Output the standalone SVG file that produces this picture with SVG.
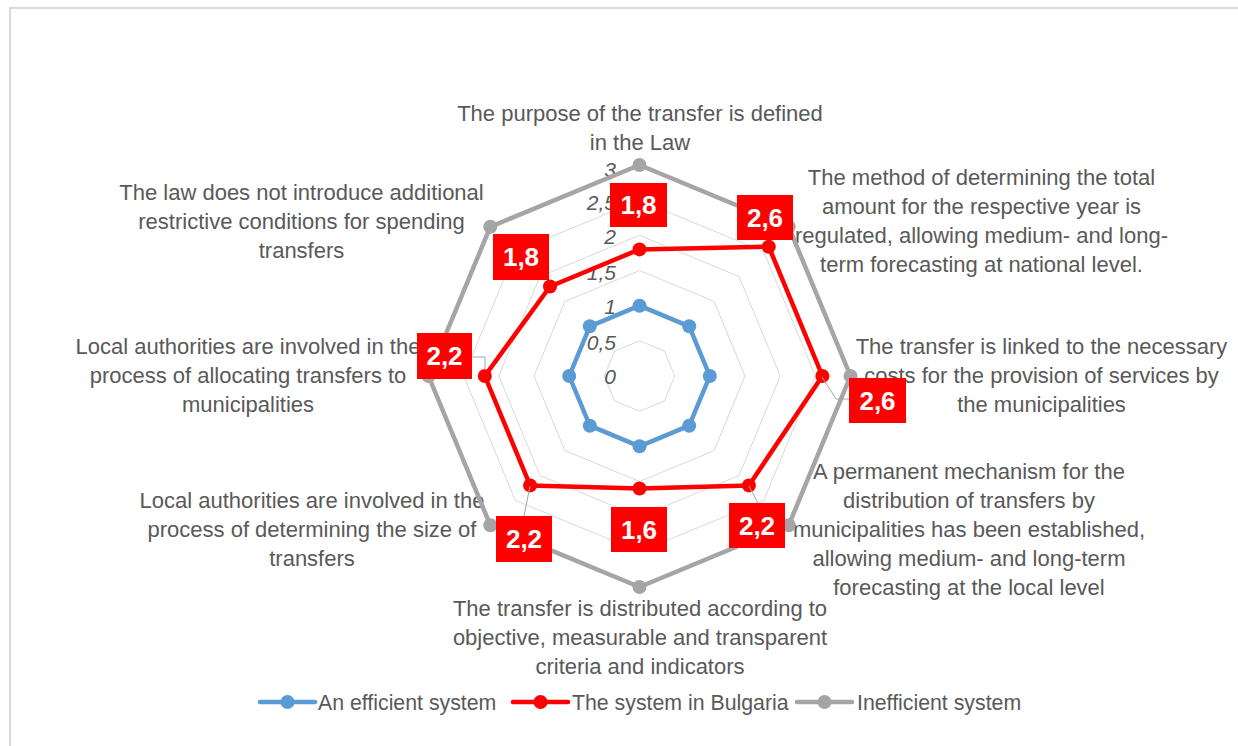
<svg xmlns="http://www.w3.org/2000/svg" width="1238" height="746" viewBox="0 0 1238 746">
<style>
.cat{font-family:"Liberation Sans",Arial,sans-serif;font-size:22px;fill:#595959;text-anchor:middle}
.ax{font-family:"Liberation Sans",Arial,sans-serif;font-size:21px;font-style:italic;fill:#595959;text-anchor:end}
.leg{font-family:"Liberation Sans",Arial,sans-serif;font-size:21.3px;fill:#595959}
.grid{fill:none;stroke:#d9d9d9;stroke-width:1}
.lbl rect{fill:#ff0000}
.lbl text{font-family:"Liberation Sans",Arial,sans-serif;font-size:26px;font-weight:bold;fill:#ffffff;text-anchor:middle}
.leader{fill:none;stroke:#a6a6a6;stroke-width:1}
</style>
<rect x="0" y="0" width="1238" height="746" fill="#ffffff"/>
<path d="M10,746 L10,8 L1238,8" fill="none" stroke="#d9d9d9" stroke-width="2"/>

<g id="grid" transform="translate(639.5,376)">
<polygon class="grid" points="0,-35.2 24.9,-24.9 35.2,0 24.9,24.9 0,35.2 -24.9,24.9 -35.2,0 -24.9,-24.9"/>
<polygon class="grid" points="0,-70.3 49.7,-49.7 70.3,0 49.7,49.7 0,70.3 -49.7,49.7 -70.3,0 -49.7,-49.7"/>
<polygon class="grid" points="0,-105.5 74.6,-74.6 105.5,0 74.6,74.6 0,105.5 -74.6,74.6 -105.5,0 -74.6,-74.6"/>
<polygon class="grid" points="0,-140.7 99.5,-99.5 140.7,0 99.5,99.5 0,140.7 -99.5,99.5 -140.7,0 -99.5,-99.5"/>
<polygon class="grid" points="0,-175.8 124.3,-124.3 175.8,0 124.3,124.3 0,175.8 -124.3,124.3 -175.8,0 -124.3,-124.3"/>
<polygon class="grid" points="0,-211 149.2,-149.2 211,0 149.2,149.2 0,211 -149.2,149.2 -211,0 -149.2,-149.2"/>
</g>

<g id="axis-labels">
<text class="ax" x="616" y="177">3</text>
<text class="ax" x="616" y="210">2,5</text>
<text class="ax" x="616" y="244">2</text>
<text class="ax" x="616" y="280">1,5</text>
<text class="ax" x="616" y="314">1</text>
<text class="ax" x="616" y="350">0,5</text>
<text class="ax" x="616" y="384">0</text>
</g>

<g id="cat-top">
<text class="cat" x="640" y="120.5">The purpose of the transfer is defined</text>
<text class="cat" x="640" y="149.5">in the Law</text>
</g>
<g id="cat-top-right">
<text class="cat" x="981.5" y="185">The method of determining the total</text>
<text class="cat" x="981.5" y="214">amount for the respective year is</text>
<text class="cat" x="981.5" y="243">regulated, allowing medium- and long-</text>
<text class="cat" x="981.5" y="272">term forecasting at national level.</text>
</g>
<g id="cat-right">
<text class="cat" x="1041.5" y="353.5">The transfer is linked to the necessary</text>
<text class="cat" x="1041.5" y="382.5">costs for the provision of services by</text>
<text class="cat" x="1041.5" y="411.5">the municipalities</text>
</g>
<g id="cat-bottom-right">
<text class="cat" x="969" y="478.5">A permanent mechanism for the</text>
<text class="cat" x="969" y="507.5">distribution of transfers by</text>
<text class="cat" x="969" y="536.5">municipalities has been established,</text>
<text class="cat" x="969" y="565.5">allowing medium- and long-term</text>
<text class="cat" x="969" y="594.5">forecasting at the local level</text>
</g>
<g id="cat-bottom">
<text class="cat" x="640" y="616">The transfer is distributed according to</text>
<text class="cat" x="640" y="645">objective, measurable and transparent</text>
<text class="cat" x="640" y="674">criteria and indicators</text>
</g>
<g id="cat-bottom-left">
<text class="cat" x="312" y="507.5">Local authorities are involved in the</text>
<text class="cat" x="312" y="536.5">process of determining the size of</text>
<text class="cat" x="312" y="565.5">transfers</text>
</g>
<g id="cat-left">
<text class="cat" x="248" y="353.5">Local authorities are involved in the</text>
<text class="cat" x="248" y="382.5">process of allocating transfers to</text>
<text class="cat" x="248" y="411.5">municipalities</text>
</g>
<g id="cat-top-left">
<text class="cat" x="301.5" y="199.5">The law does not introduce additional</text>
<text class="cat" x="301.5" y="228.5">restrictive conditions for spending</text>
<text class="cat" x="301.5" y="257.5">transfers</text>
</g>

<g id="connectors">
<g id="series-efficient" transform="translate(639.5,376)" fill="#5b9bd5">
<polygon points="0,-70.3 49.7,-49.7 70.3,0 49.7,49.7 0,70.3 -49.7,49.7 -70.3,0 -49.7,-49.7" fill="none" stroke="#5b9bd5" stroke-width="4.5" stroke-linejoin="round"/>
<circle cx="0" cy="-70.3" r="7"/><circle cx="49.7" cy="-49.7" r="7"/><circle cx="70.3" cy="0" r="7"/><circle cx="49.7" cy="49.7" r="7"/>
<circle cx="0" cy="70.3" r="7"/><circle cx="-49.7" cy="49.7" r="7"/><circle cx="-70.3" cy="0" r="7"/><circle cx="-49.7" cy="-49.7" r="7"/>
</g>
<g id="series-bulgaria" transform="translate(639.5,376)" fill="#ff0000">
<polygon points="0,-126.6 129.3,-129.3 182.9,0 109.4,109.4 0,112.5 -109.4,109.4 -154.7,0 -89.5,-89.5" fill="none" stroke="#ff0000" stroke-width="4.5" stroke-linejoin="round"/>
<circle cx="0" cy="-126.6" r="7"/><circle cx="129.3" cy="-129.3" r="7"/><circle cx="182.9" cy="0" r="7"/><circle cx="109.4" cy="109.4" r="7"/>
<circle cx="0" cy="112.5" r="7"/><circle cx="-109.4" cy="109.4" r="7"/><circle cx="-154.7" cy="0" r="7"/><circle cx="-89.5" cy="-89.5" r="7"/>
</g>
<g id="series-inefficient" transform="translate(639.5,376)" fill="#a5a5a5">
<polygon points="0,-211 149.2,-149.2 211,0 149.2,149.2 0,211 -149.2,149.2 -211,0 -149.2,-149.2" fill="none" stroke="#a5a5a5" stroke-width="4.5" stroke-linejoin="round"/>
<circle cx="0" cy="-211" r="7"/><circle cx="149.2" cy="-149.2" r="7"/><circle cx="211" cy="0" r="7"/><circle cx="149.2" cy="149.2" r="7"/>
<circle cx="0" cy="211" r="7"/><circle cx="-149.2" cy="149.2" r="7"/><circle cx="-211" cy="0" r="7"/><circle cx="-149.2" cy="-149.2" r="7"/>
</g>
<path class="leader" d="M822,377 L836,399 L849,399"/>
<path class="leader" d="M472,357 L485,357 L485,370"/>
<path class="leader" d="M530,486 L524,516"/>
<path class="leader" d="M749,486 L758,503"/>
</g>

<g id="label-top" class="lbl"><rect x="610" y="183" width="57" height="44"/><text x="638.5" y="214">1,8</text></g>
<g id="label-top-right" class="lbl"><rect x="737" y="195" width="56" height="45"/><text x="765" y="226.5">2,6</text></g>
<g id="label-right" class="lbl"><rect x="849" y="378" width="57" height="45"/><text x="877.5" y="409.5">2,6</text></g>
<g id="label-bottom-right" class="lbl"><rect x="729" y="503" width="56" height="45"/><text x="757" y="534.5">2,2</text></g>
<g id="label-bottom" class="lbl"><rect x="611" y="507" width="56" height="45"/><text x="639" y="538.5">1,6</text></g>
<g id="label-bottom-left" class="lbl"><rect x="496" y="516" width="56" height="46"/><text x="524" y="548">2,2</text></g>
<g id="label-left" class="lbl"><rect x="417" y="333" width="55" height="46"/><text x="444.5" y="365">2,2</text></g>
<g id="label-top-left" class="lbl"><rect x="493" y="234" width="56" height="46"/><text x="521" y="266">1,8</text></g>

<g id="legend">
<line x1="260" y1="702" x2="315" y2="702" stroke="#5b9bd5" stroke-width="4.5" stroke-linecap="round"/>
<circle cx="287.5" cy="702" r="7" fill="#5b9bd5"/>
<text class="leg" x="318" y="709.5">An efficient system</text>
<line x1="513" y1="702" x2="568" y2="702" stroke="#ff0000" stroke-width="4.5" stroke-linecap="round"/>
<circle cx="540.5" cy="702" r="7" fill="#ff0000"/>
<text class="leg" x="572" y="709.5">The system in Bulgaria</text>
<line x1="797" y1="702" x2="852" y2="702" stroke="#a5a5a5" stroke-width="4.5" stroke-linecap="round"/>
<circle cx="824.5" cy="702" r="7" fill="#a5a5a5"/>
<text class="leg" x="857" y="709.5">Inefficient system</text>
</g>
</svg>
